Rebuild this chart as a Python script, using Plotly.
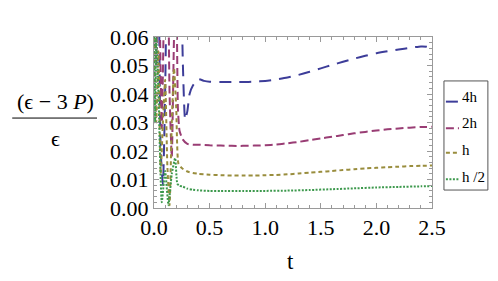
import plotly.graph_objects as go

# ---- data ----
t_4h = [0.0, 0.02, 0.04, 0.06, 0.08, 0.10, 0.12, 0.16, 0.20, 0.24, 0.26, 0.28, 0.30, 0.32, 0.35,
        0.40, 0.45, 0.5, 0.6, 0.7, 0.8, 0.9, 1.0, 1.1, 1.2, 1.3, 1.4, 1.5, 1.6, 1.7, 1.8, 1.9,
        2.0, 2.1, 2.2, 2.3, 2.4, 2.45, 2.5]
v_4h = [0.07, 0.09, 0.08, 0.02, 0.008, 0.04, 0.09, 0.12, 0.15, 0.09, 0.05, 0.031, 0.034, 0.040, 0.043,
        0.0452, 0.0446, 0.0443, 0.0442, 0.0442, 0.0442, 0.0443, 0.0446, 0.0451, 0.0458, 0.0467, 0.0478,
        0.0490, 0.0502, 0.0513, 0.0524, 0.0534, 0.0543, 0.0550, 0.0556, 0.0562, 0.0567, 0.0566, 0.0559]

t_2h = [0.0, 0.02, 0.04, 0.07, 0.09, 0.12, 0.14, 0.16, 0.18, 0.20, 0.215, 0.23, 0.26, 0.30, 0.35,
        0.4, 0.5, 0.6, 0.7, 0.8, 0.9, 1.0, 1.1, 1.2, 1.3, 1.4, 1.5, 1.6, 1.7, 1.8, 1.9, 2.0,
        2.1, 2.2, 2.3, 2.4, 2.5]
v_2h = [0.08, 0.05, 0.09, 0.028, 0.07, 0.10, 0.04, 0.018, 0.06, 0.08, 0.035, 0.027, 0.024, 0.0225, 0.0222,
        0.0222, 0.0220, 0.0219, 0.0218, 0.0218, 0.0219, 0.0220, 0.0223, 0.0227, 0.0232, 0.0238, 0.0244,
        0.0250, 0.0256, 0.0262, 0.0267, 0.0272, 0.0276, 0.0279, 0.0282, 0.0284, 0.0285]

t_h = [0.0, 0.02, 0.04, 0.06, 0.08, 0.10, 0.12, 0.14, 0.16, 0.18, 0.20, 0.22, 0.25, 0.30, 0.35,
       0.4, 0.5, 0.6, 0.7, 0.8, 0.9, 1.0, 1.1, 1.2, 1.3, 1.4, 1.5, 1.6, 1.7, 1.8, 1.9, 2.0,
       2.1, 2.2, 2.3, 2.4, 2.5]
v_h = [0.06, 0.03, 0.055, 0.012, 0.03, 0.045, 0.015, 0.001, 0.03, 0.049, 0.035, 0.0155, 0.014, 0.0128, 0.0123,
       0.0120, 0.0117, 0.0115, 0.0114, 0.0114, 0.0114, 0.0115, 0.0116, 0.0118, 0.0121, 0.0124, 0.0127,
       0.0130, 0.0133, 0.0136, 0.0139, 0.0141, 0.0143, 0.0145, 0.0147, 0.0148, 0.0149]

t_h2 = [0.0, 0.01, 0.02, 0.04, 0.07, 0.10, 0.13, 0.16, 0.19, 0.21, 0.23, 0.26, 0.30, 0.35, 0.4,
        0.5, 0.6, 0.8, 1.0, 1.2, 1.4, 1.6, 1.8, 2.0, 2.2, 2.4, 2.5]
v_h2 = [0.07, 0.03, 0.06, 0.04, 0.002, 0.013, 0.001, 0.012, 0.0175, 0.0085, 0.0078, 0.0075, 0.0068, 0.0064, 0.0062,
        0.0060, 0.0060, 0.0060, 0.0060, 0.0061, 0.0063, 0.0066, 0.0069, 0.0072, 0.0074, 0.0076, 0.0077]

names = ["4h", "2h", "h", "h /2"]
colors = ["#3d3d99", "#993d74", "#998d3d", "#3d994d"]
dashes = ["12px,8px", "8px,4px", "4px,3px", "2px,1.5px"]

x_ticks = [0.0, 0.5, 1.0, 1.5, 2.0, 2.5]
x_ticklabels = ["0.0", "0.5", "1.0", "1.5", "2.0", "2.5"]
y_ticks = [0.00, 0.01, 0.02, 0.03, 0.04, 0.05, 0.06]
y_ticklabels = ["0.00", "0.01", "0.02", "0.03", "0.04", "0.05", "0.06"]

series = [(t_4h, v_4h), (t_2h, v_2h), (t_h, v_h), (t_h2, v_h2)]

fig = go.Figure()
for (tt, vv), nm, c, d in zip(series, names, colors, dashes):
    fig.add_trace(go.Scatter(x=tt, y=vv, mode="lines", name=nm, showlegend=False,
                             line=dict(color=c, width=2, dash=d, shape="spline", smoothing=0.5)))

serif = "Liberation Serif, Times New Roman, DejaVu Serif, serif"
frame = "#9a9a9a"
axis_common = dict(showgrid=False, zeroline=False, showline=True, linecolor=frame, linewidth=1,
                   mirror="ticks", ticks="inside", ticklen=5, tickcolor=frame,
                   tickfont=dict(family=serif, size=22, color="black"))

fig.update_xaxes(range=[0, 2.5], tickvals=x_ticks, ticktext=x_ticklabels,
                 minor=dict(ticks="inside", ticklen=3, dtick=0.1, tickcolor=frame),
                 **axis_common)
fig.update_yaxes(range=[0, 0.06], tickvals=y_ticks, ticktext=y_ticklabels,
                 minor=dict(ticks="inside", ticklen=3, dtick=0.002, tickcolor=frame),
                 **axis_common)

# axis titles
fig.add_annotation(text="t", xref="paper", yref="paper", x=0.49, y=-0.31, xanchor="center",
                   yanchor="middle", showarrow=False, font=dict(family=serif, size=23, color="black"))
fig.add_annotation(text="(ϵ − 3 <i>P</i>)", xref="paper", yref="paper", x=-0.356, y=0.625,
                   xanchor="center", yanchor="middle", showarrow=False,
                   font=dict(family=serif, size=22, color="black"))
fig.add_annotation(text="ϵ", xref="paper", yref="paper", x=-0.356, y=0.405,
                   xanchor="center", yanchor="middle", showarrow=False,
                   font=dict(family=serif, size=22, color="black"))
fig.add_shape(type="line", xref="paper", yref="paper", x0=-0.51, x1=-0.205, y0=0.526, y1=0.526,
              line=dict(color="black", width=1))

# legend (drawn manually)
lx0, lx1 = 1.043, 1.201
fig.add_shape(type="rect", xref="paper", yref="paper", x0=lx0, x1=lx1, y0=0.105, y1=0.743,
              line=dict(color="#555555", width=1), fillcolor="white")
sym_y = [0.622, 0.466, 0.323, 0.168]
txt_y = [0.651, 0.499, 0.339, 0.183]
for nm, c, d, sy, ty in zip(names, colors, dashes, sym_y, txt_y):
    fig.add_shape(type="line", xref="paper", yref="paper", x0=1.050, x1=1.097, y0=sy, y1=sy,
                  line=dict(color=c, width=2, dash=d))
    fig.add_annotation(text=nm, xref="paper", yref="paper", x=1.100, y=ty, xanchor="left",
                       yanchor="middle", showarrow=False,
                       font=dict(family=serif, size=15, color="black"))

# the page body adds an 8px offset, so the margins are shifted by 8px
fig.update_layout(width=498, height=281, margin=dict(l=146, r=74, t=29, b=81),
                  paper_bgcolor="white", plot_bgcolor="white")

fig.write_html("out.html")
